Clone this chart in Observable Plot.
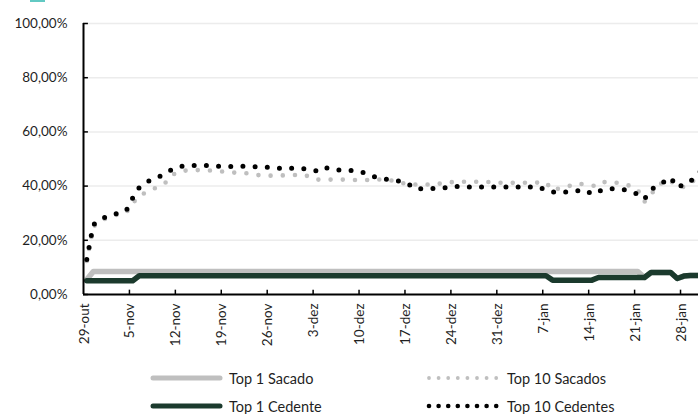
<!DOCTYPE html>
<html>
<head>
<meta charset="utf-8">
<script src="https://cdn.jsdelivr.net/npm/d3@7"></script>
<script src="https://cdn.jsdelivr.net/npm/@observablehq/plot@0.6"></script>
<style>
  body { margin: 0; background: #fff; font-family: Lato, "Open Sans", sans-serif; }
  #wrap { position: relative; width: 698px; height: 414px; overflow: hidden; background: #fff; }
  #mark { position: absolute; left: 30px; top: 0; width: 15px; height: 2px; background: #62c9c3; }
  #chart { position: absolute; left: 0; top: 0; }
  .leg { position: absolute; display: flex; align-items: center; font-size: 14.5px; color: #1f1f1f; white-space: nowrap; }
  .leg svg { margin-right: 5px; }
</style>
</head>
<body>
<div id="wrap">
  <div id="chart"></div>
  <div id="mark"></div>
</div>
<script>
// ---- Data (day offsets from 29-out, values in %) ----
const startDate = "2023-10-29";
const seriesNames = ["Top 1 Sacado", "Top 10 Sacados", "Top 1 Cedente", "Top 10 Cedentes"];

const top1SacadoDays   = [0, 1, 84, 85, 86, 89, 90, 91, 92, 94];
const top1SacadoValues = [5.5, 8.5, 8.5, 6.3, 8.1, 8.1, 5.9, 6.8, 7.0, 7.0];

const top1CedenteDays   = [0, 7, 8, 70, 71, 77, 78, 85, 86, 89, 90, 91, 92, 94];
const top1CedenteValues = [5.1, 5.1, 6.9, 6.9, 5.3, 5.3, 6.3, 6.3, 8.1, 8.1, 5.9, 6.8, 7.0, 7.0];

const top10SacadosDays = [0,1,2,3,4,5,6,7,8,10,12,13,14,16,18,20,22,24,26,27,29,31,33,35,37,38,40,42,44,46,48,49,51,53,55,57,59,61,62,64,66,68,70,71,73,75,76,78,79,81,83,84,85,86,87,88,90,91,93,94];
const top10SacadosValues = [12.4,25.0,27.0,28.2,29.0,29.6,30.2,33.6,36.5,38.7,41.3,44.0,45.5,45.9,45.9,45.6,45.0,44.9,44.1,43.8,43.9,44.0,44.3,42.4,42.4,42.4,42.4,42.1,42.5,42.3,41.2,40.6,40.6,40.6,41.4,41.6,41.6,41.6,41.3,41.2,41.2,41.3,41.3,38.5,39.7,41.0,40.4,40.0,41.6,41.2,40.0,38.5,34.2,37.0,39.7,42.0,41.0,39.5,42.8,45.0];

const top10CedentesDays = [0,1,2,3,4,5,6,7,8,9,11,12,14,16,18,20,22,23,25,27,29,31,33,35,36,38,40,42,43,45,47,49,50,52,54,56,58,60,63,65,67,69,70,72,74,76,77,79,81,82,84,85,86,88,89,90,92,93,94];
const top10CedentesValues = [12.9,25.7,27.6,28.7,29.5,30.2,30.9,35.6,39.5,41.4,43.4,45.0,47.2,47.6,47.6,47.3,47.2,47.4,47.1,47.1,46.6,46.6,46.4,45.6,47.0,45.9,45.9,45.1,44.0,42.7,42.3,40.8,39.0,39.1,39.1,39.9,39.7,39.7,39.7,39.7,39.7,39.7,38.3,37.5,38.1,38.5,37.0,39.0,39.0,38.6,37.0,35.2,38.7,41.6,43.2,39.5,41.6,44.6,46.0];

const yTicks = [0, 20, 40, 60, 80, 100];
const xTickLabels = ["29-out","5-nov","12-nov","19-nov","26-nov","3-dez","10-dez","17-dez","24-dez","31-dez","7-jan","14-jan","21-jan","28-jan"];

// ---- Build ----
const DAY = 86400000;
const t0 = new Date(startDate + "T00:00:00Z");
const dayToDate = (d) => new Date(+t0 + (d + 0.5) * DAY); // points sit mid-day
const toRows = (days, vals) => days.map((d, i) => ({date: dayToDate(d), value: vals[i]}));

const s1 = toRows(top1SacadoDays, top1SacadoValues);
const s2 = toRows(top10SacadosDays, top10SacadosValues);
const s3 = toRows(top1CedenteDays, top1CedenteValues);
const s4 = toRows(top10CedentesDays, top10CedentesValues);

const xTickDates = xTickLabels.map((_, i) => new Date(+t0 + i * 7 * DAY));
const xEnd = new Date(+t0 + 93.74 * DAY);

const colors = {gray: "#bfbfbf", dark: "#1b3a2d", black: "#000000"};
const fmtPct = (v) => v.toFixed(2).replace(".", ",") + "%";

const chart = Plot.plot({
  width: 698,
  height: 350,
  marginLeft: 83,
  marginRight: 0,
  marginTop: 23,
  marginBottom: 56,
  style: {fontFamily: "Lato, 'Open Sans', sans-serif", background: "transparent", overflow: "visible"},
  x: {type: "utc", domain: [t0, xEnd], axis: null},
  y: {domain: [0, 100], axis: null},
  marks: [
    Plot.ruleY(yTicks.filter((v) => v > 0), {stroke: "#ececec", strokeWidth: 1.5}),
    Plot.line(s1, {x: "date", y: "value", stroke: colors.gray, strokeWidth: 5.5, strokeLinecap: "round", strokeLinejoin: "round", clip: true}),
    Plot.line(s3, {x: "date", y: "value", stroke: colors.dark, strokeWidth: 5.5, strokeLinecap: "round", strokeLinejoin: "round", clip: true}),
    Plot.line(s2, {x: "date", y: "value", stroke: colors.gray, strokeWidth: 4.6, strokeDasharray: "0 12.2", strokeLinecap: "round", strokeLinejoin: "round", clip: true}),
    Plot.line(s4, {x: "date", y: "value", stroke: colors.black, strokeWidth: 5, strokeDasharray: "0 12.2", strokeLinecap: "round", strokeLinejoin: "round", clip: true}),
    Plot.ruleX([t0], {stroke: "#000", strokeWidth: 2}),
    Plot.ruleY([0], {stroke: "#000", strokeWidth: 2}),
    Plot.ruleY(yTicks, {x1: t0, x2: new Date(+t0 + 0.75 * DAY), stroke: "#000", strokeWidth: 1.5}),
    Plot.ruleX(xTickDates.slice(1), {y1: 0, y2: 1.6, stroke: "#000", strokeWidth: 1.5}),
    Plot.text(yTicks, {y: (d) => d, frameAnchor: "left", text: fmtPct, textAnchor: "end", dx: -16, fontSize: 13.5, fill: "#1f1f1f"}),
    Plot.text(xTickDates, {x: (d) => d, frameAnchor: "bottom", text: (d, i) => xTickLabels[i], rotate: -90, textAnchor: "end", dx: 5, dy: 9, fontSize: 13.5, fill: "#1f1f1f"})
  ]
});
document.getElementById("chart").appendChild(chart);

// ---- Legend ----
const wrap = document.getElementById("wrap");
const legendItems = [
  {name: seriesNames[0], kind: "solid", color: colors.gray, left: 146, top: 378},
  {name: seriesNames[1], kind: "dots", color: colors.gray, r: 1.9, left: 424, top: 378},
  {name: seriesNames[2], kind: "solid", color: colors.dark, left: 146, top: 406},
  {name: seriesNames[3], kind: "dots", color: colors.black, r: 2.3, left: 424, top: 406}
];
for (const it of legendItems) {
  const div = document.createElement("div");
  div.className = "leg";
  div.style.left = it.left + "px";
  div.style.top = (it.top - 10) + "px";
  div.style.height = "20px";
  const ns = "http://www.w3.org/2000/svg";
  const svg = document.createElementNS(ns, "svg");
  svg.setAttribute("width", 78); svg.setAttribute("height", 20);
  if (it.kind === "solid") {
    const l = document.createElementNS(ns, "line");
    l.setAttribute("x1", 7); l.setAttribute("x2", 74); l.setAttribute("y1", 10); l.setAttribute("y2", 10);
    l.setAttribute("stroke", it.color); l.setAttribute("stroke-width", 5); l.setAttribute("stroke-linecap", "round");
    svg.appendChild(l);
  } else {
    for (let k = 0; k < 8; k++) {
      const c = document.createElementNS(ns, "circle");
      c.setAttribute("cx", 5 + k * 9.6); c.setAttribute("cy", 10); c.setAttribute("r", it.r);
      c.setAttribute("fill", it.color);
      svg.appendChild(c);
    }
  }
  div.appendChild(svg);
  const span = document.createElement("span");
  span.textContent = it.name;
  div.appendChild(span);
  wrap.appendChild(div);
}
</script>
</body>
</html>
